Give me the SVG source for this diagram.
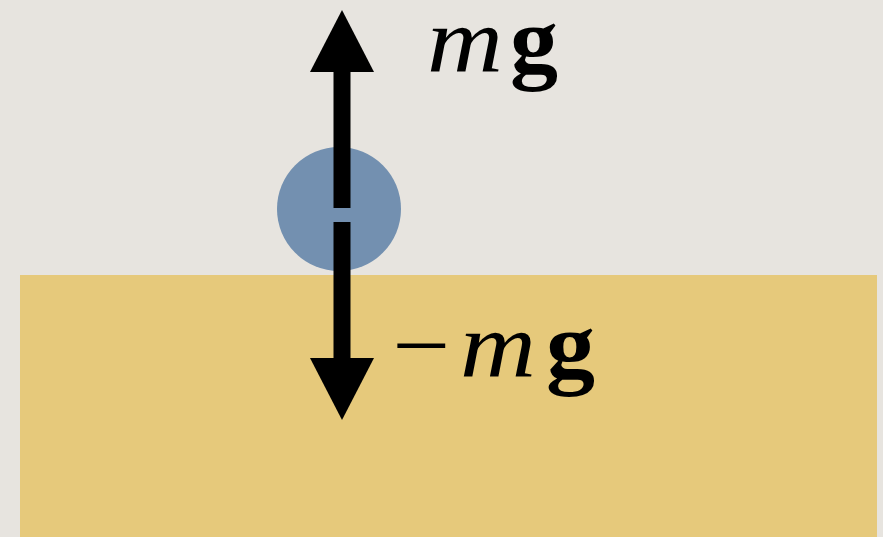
<svg xmlns="http://www.w3.org/2000/svg" width="883" height="537" viewBox="0 0 883 537">
<style>
.lbl{font-family:"Liberation Serif","DejaVu Serif",serif;font-size:94px;fill:#000}
.it{font-style:italic}
.bd{font-weight:bold}
</style>
<defs>
<marker id="ah" viewBox="0 0 64 64" refX="0" refY="32" markerUnits="userSpaceOnUse" markerWidth="64" markerHeight="64" orient="auto">
<path d="M0,0 L62,32 L0,64 Z" fill="#000"/>
</marker>
</defs>
<rect x="0" y="0" width="883" height="537" fill="#e7e4df"/>
<g id="ground"><rect x="20" y="275" width="857" height="262" fill="#e6c97b"/></g>
<g id="ball"><circle cx="339" cy="209" r="62" fill="#7390b0"/></g>
<g id="connectors">
<line x1="342" y1="208" x2="342" y2="72" stroke="#000" stroke-width="17" marker-end="url(#ah)"/>
<line x1="342" y1="222" x2="342" y2="358" stroke="#000" stroke-width="17" marker-end="url(#ah)"/>
</g>
<g id="label-up"><text class="lbl" y="72"><tspan class="it" x="427" textLength="76" lengthAdjust="spacingAndGlyphs">m</tspan><tspan class="bd" x="510" textLength="48" lengthAdjust="spacingAndGlyphs">g</tspan></text></g>
<g id="label-down"><text class="lbl" y="377"><tspan x="392" textLength="58" lengthAdjust="spacingAndGlyphs">−</tspan><tspan class="it" x="460" textLength="76" lengthAdjust="spacingAndGlyphs">m</tspan><tspan class="bd" x="546" textLength="49" lengthAdjust="spacingAndGlyphs">g</tspan></text></g>
</svg>
